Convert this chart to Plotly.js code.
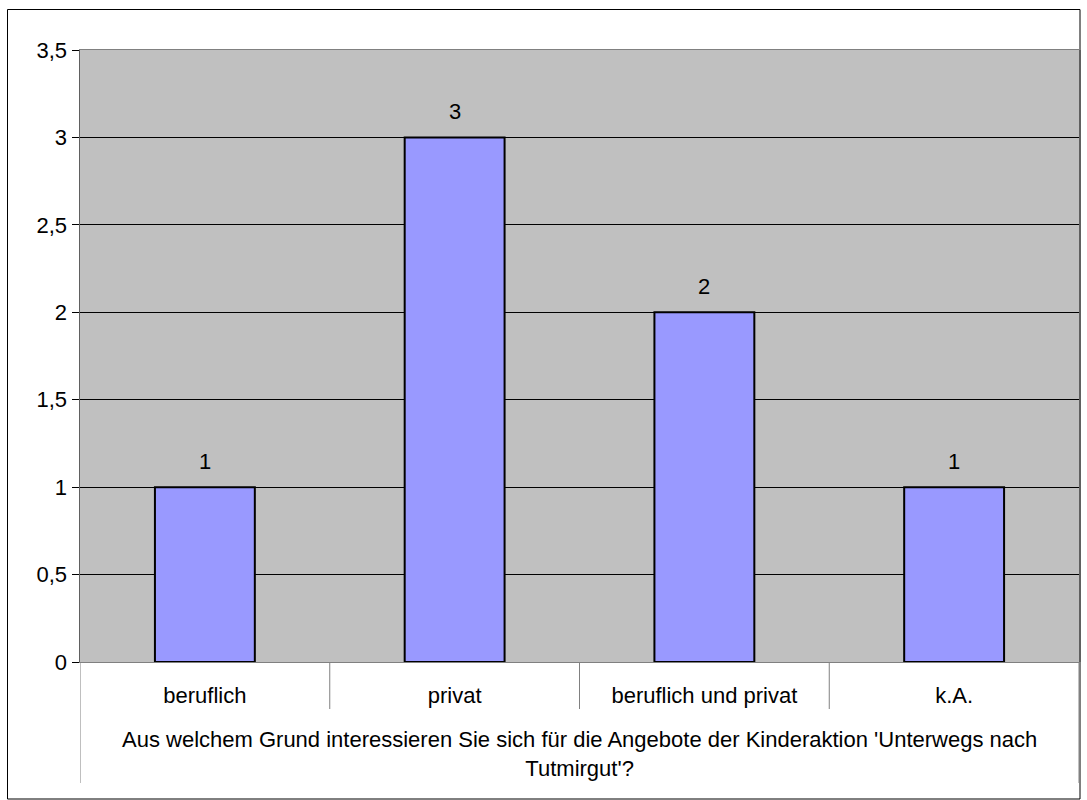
<!DOCTYPE html>
<html><head><meta charset="utf-8">
<script src="https://cdn.plot.ly/plotly-3.0.1.min.js"></script>
<style>html,body{margin:0;padding:0;background:#fff}#chart{width:1087px;height:800px}</style>
</head><body><div id="chart"></div>
<script>
const categories = ["beruflich", "privat", "beruflich und privat", "k.A."];
const values = [1, 3, 2, 1];
const yTickVals = [0, 0.5, 1, 1.5, 2, 2.5, 3, 3.5];
const yTickText = ["0", "0,5", "1", "1,5", "2", "2,5", "3", "3,5"];
const axisTitle = "Aus welchem Grund interessieren Sie sich für die Angebote der Kinderaktion 'Unterwegs nach<br>Tutmirgut'?";

const W = 1087, H = 800;
const L = 80, R = 8, T = 50, B = 138;
const pw = W - L - R, ph = H - T - B;
const px = x => (x - L) / pw;          // pixel -> paper x
const py = y => (H - B - y) / ph;      // pixel -> paper y
const FONT = "Liberation Sans, Arial, sans-serif";
const FS = 22;

const shapes = [
  {type:"rect", xref:"paper", yref:"paper", x0:px(7.5), x1:px(1080), y0:py(799), y1:py(9.5),
   line:{color:"#000", width:1}, fillcolor:"rgba(0,0,0,0)", layer:"below"}
];
for (let i = 0; i <= categories.length; i++) {
  const edge = (i === 0 || i === categories.length);
  shapes.push({type:"line", xref:"x", yref:"paper", x0:i - 0.5, x1:i - 0.5,
    y0:0, y1:py(edge ? 783 : 709), line:{color:"#808080", width:1}});
}

const annotations = values.map((v, i) => ({
  x: categories[i], y: v, xref:"x", yref:"y", text:String(v), showarrow:false,
  yanchor:"bottom", yshift:11, font:{family:FONT, size:FS, color:"#000"}
}));
annotations.push({x:0.5, y:py(754), xref:"paper", yref:"paper", text:axisTitle, showarrow:false,
  yanchor:"middle", xanchor:"center", font:{family:FONT, size:FS, color:"#000"}});

const trace = {
  type:"bar", x:categories, y:values, width:0.4,
  marker:{color:"#9999FF", line:{color:"#000", width:2}},
  hoverinfo:"none"
};

const layout = {
  width:W, height:H, margin:{l:L, r:R, t:T, b:B},
  paper_bgcolor:"#fff", plot_bgcolor:"#C0C0C0",
  font:{family:FONT, size:FS, color:"#000"},
  showlegend:false,
  xaxis:{type:"category", range:[-0.5, 3.5], showgrid:false, zeroline:false,
    showline:true, linecolor:"#808080", linewidth:1, mirror:true,
    ticks:"", ticklabelstandoff:14, tickfont:{family:FONT, size:FS, color:"#000"}},
  yaxis:{range:[0, 3.5], tickvals:yTickVals, ticktext:yTickText,
    showgrid:true, gridcolor:"#000", gridwidth:1, zeroline:true, zerolinecolor:"#000", zerolinewidth:1,
    showline:true, linecolor:"#606060", linewidth:1.5, mirror:true,
    ticks:"outside", ticklen:7, tickcolor:"#000", tickwidth:1,
    tickfont:{family:FONT, size:FS, color:"#000"}},
  shapes:shapes, annotations:annotations
};
Plotly.newPlot("chart", [trace], layout, {staticPlot:true, displayModeBar:false});
</script></body></html>
